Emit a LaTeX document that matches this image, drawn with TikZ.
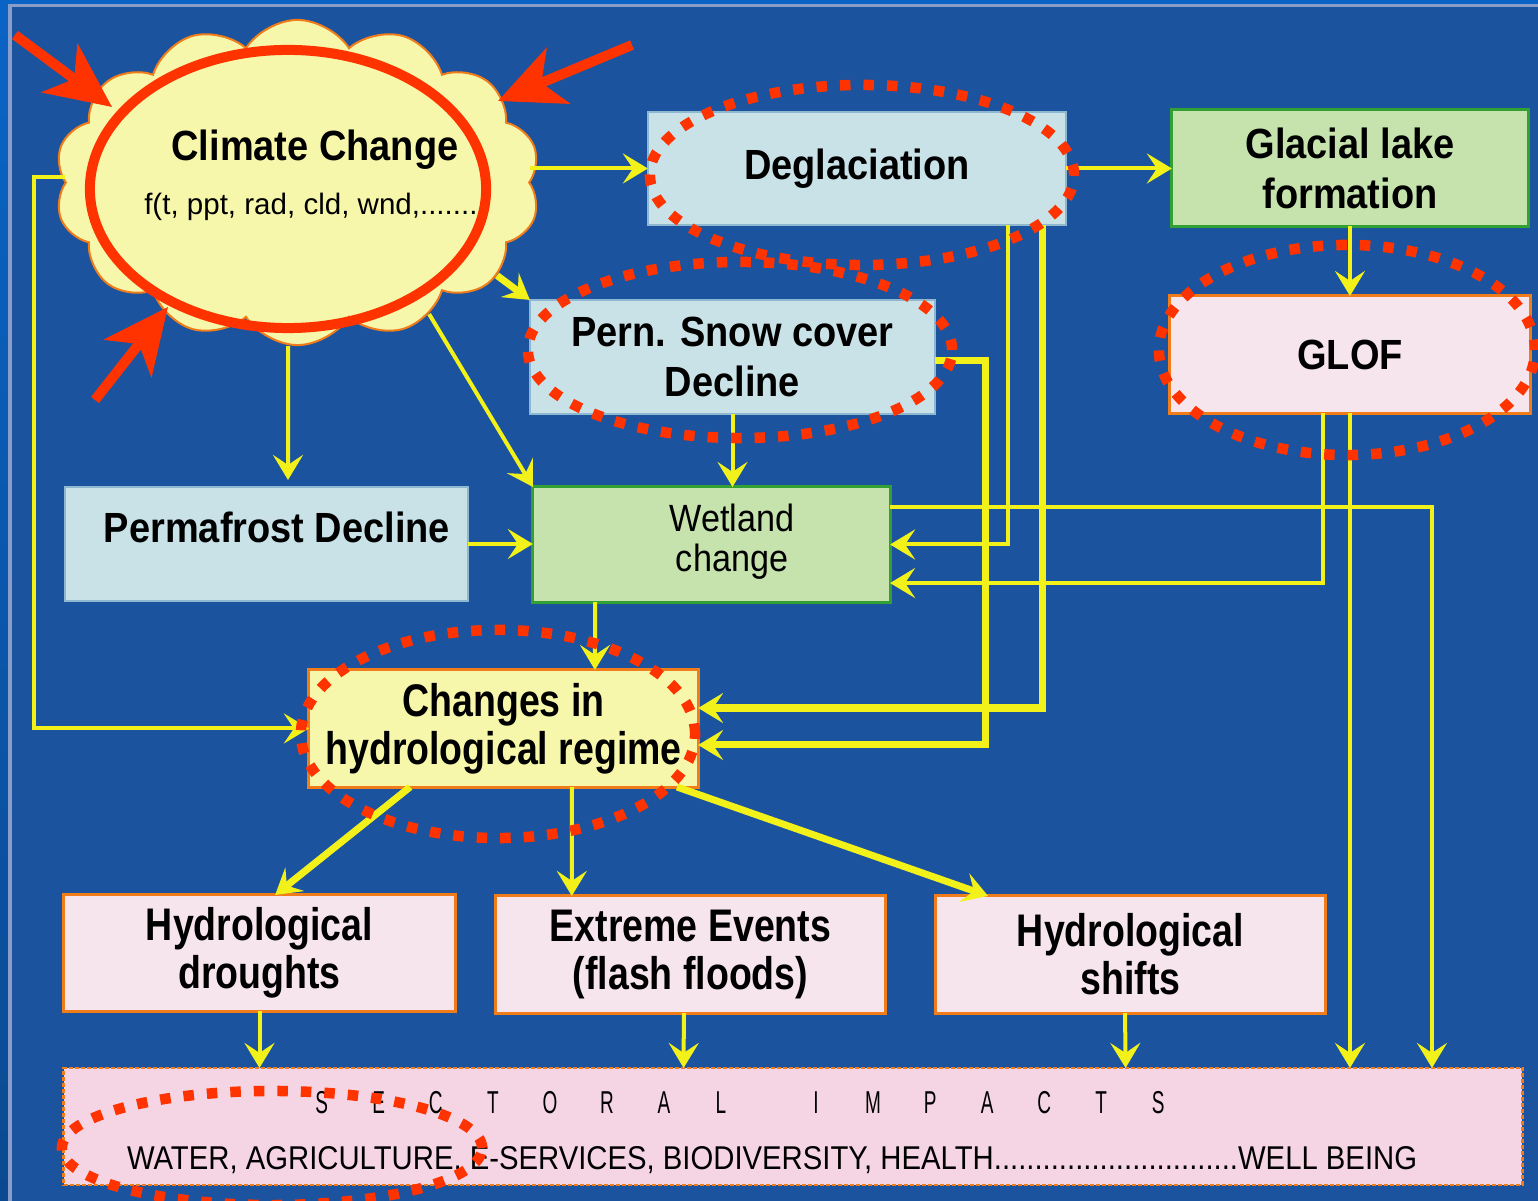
\documentclass[tikz,border=0pt]{standalone}
\usepackage{graphicx}
\usepackage{fontspec}
\setmainfont{Liberation Sans}
\newfontfamily\fA[FakeStretch=0.9]{Liberation Sans}
\newfontfamily\fB[FakeStretch=0.82]{Liberation Sans}
\newfontfamily\fD[FakeStretch=0.6]{Liberation Sans}
\usetikzlibrary{shapes.symbols,arrows.meta,calc}
\definecolor{outerblue}{HTML}{0A64C6}
\definecolor{outerdark}{HTML}{0B4A92}
\definecolor{bgblue}{HTML}{1B539F}
\definecolor{panelline}{HTML}{8A9CC8}
\definecolor{ylw}{HTML}{F2F21A}
\definecolor{redc}{HTML}{FF3300}
\definecolor{lblue}{HTML}{C8E2E7}
\definecolor{lblueb}{HTML}{8EB8D0}
\definecolor{lgreen}{HTML}{C6E3AD}
\definecolor{dgreen}{HTML}{33A033}
\definecolor{lpink}{HTML}{F6E5EC}
\definecolor{spink}{HTML}{F5D5E4}
\definecolor{orng}{HTML}{F07D1A}
\definecolor{lyel}{HTML}{F7F7AB}
\newcommand\mytop{\fA\bfseries\fontsize{12}{14.2}\selectfont}
\newcommand\mybot{\fB\bfseries\fontsize{13}{13.7}\selectfont}
\newcommand\mywet{\fA\fontsize{10.8}{11.4}\selectfont}
\newcommand\mysub{\fontsize{8.4}{10}\selectfont}
\newcommand\mysec{\fD\fontsize{9}{10}\selectfont}
\newcommand\myl[1]{\makebox[0.57cm][c]{#1}}
\tikzset{
  box/.style={rectangle, inner sep=0pt, outer sep=0pt, align=center, text=black},
  bluebox/.style={box, fill=lblue, draw=lblueb, line width=0.015cm},
  greenbox/.style={box, fill=lgreen, draw=dgreen, line width=0.03cm},
  pinkbox/.style={box, fill=lpink, draw=orng, line width=0.03cm},
  yelbox/.style={box, fill=lyel, draw=orng, line width=0.03cm},
  sectbox/.style={box, fill=spink, draw=orng, line width=0.025cm, dash pattern=on 0.04cm off 0.02cm},
  txt/.style={inner sep=0pt, outer sep=0pt, align=center, text=black},
  arr/.style={draw=ylw, line width=0.04cm, -{Stealth[length=0.25cm,width=0.3cm,inset=0.1cm]}},
  thickarr/.style={arr, line width=0.07cm},
  reddots/.style={draw=redc, line width=0.105cm, dash pattern=on 0.105cm off 0.13cm},
  redarrow/.style={draw=redc, line width=0.1cm, -{Stealth[length=0.65cm,width=0.6cm,inset=0.18cm]}},
}
\begin{document}
\begin{tikzpicture}[x=0.01cm,y=-0.01cm]
\useasboundingbox (0,0) rectangle (1538,1201);
\shade[top color=outerblue, bottom color=outerdark] (0,0) rectangle (1538,1201);
\fill[bgblue] (10,6) rectangle (1538,1201);
\draw[panelline, line width=0.03cm] (10,1201) -- (10,6) -- (1538,6);

% cloud
\node[cloud, cloud puffs=14, cloud puff arc=115, aspect=1.5, minimum width=4.85cm, minimum height=3.25cm,
      fill=lyel, draw=orng, line width=0.02cm, inner sep=0pt] (cloud) at (297.5,182.5) {};
\node[txt, font=\mytop] (cctitle) at (315,150) {Climate Change};
\node[txt, font=\mysub] (ccsub) at (315,207) {f(t, ppt, rad, cld, wnd,........};

% boxes
\node[bluebox, font=\mytop, minimum width=4.18cm, minimum height=1.13cm] (degl) at (857,168.5) {Deglaciation};
\node[greenbox, font=\mytop, minimum width=3.56cm, minimum height=1.16cm] (glac) at (1350,168) {Glacial lake\\formation};
\node[pinkbox, font=\mytop, minimum width=3.6cm, minimum height=1.17cm] (glof) at (1350,354.5) {GLOF};
\node[bluebox, font=\mytop, minimum width=4.05cm, minimum height=1.14cm] (snow) at (732.5,357) {Pern. Snow cover\\Decline};
\node[bluebox, minimum width=4.03cm, minimum height=1.14cm] (perma) at (266.5,544) {};
\node[txt, font=\mytop] (permatext) at (277,527) {Permafrost Decline};
\node[greenbox, minimum width=3.57cm, minimum height=1.15cm] (wet) at (711.5,544.5) {};
\node[txt, font=\mywet] (wettext) at (732,542) {Wetland\\change};
\node[yelbox, font=\mybot, minimum width=3.89cm, minimum height=1.17cm] (chg) at (503.5,728.5) {Changes in\\hydrological regime};
\node[pinkbox, font=\mybot, minimum width=3.91cm, minimum height=1.16cm] (drought) at (259.5,953) {Hydrological\\droughts};
\node[pinkbox, font=\mybot, minimum width=3.89cm, minimum height=1.17cm] (extreme) at (690.5,954.5) {Extreme Events\\(flash floods)};
\node[pinkbox, font=\mybot, minimum width=3.89cm, minimum height=1.17cm] (shifts) at (1130.5,954.5) {Hydrological\\shifts};
\node[sectbox, minimum width=14.58cm, minimum height=1.17cm] (sect) at (793,1126.5) {};
\node[txt, font=\mysec] (secttitle) at (740,1103) {\myl{S}\myl{E}\myl{C}\myl{T}\myl{O}\myl{R}\myl{A}\myl{L}\hspace{0.38cm}\myl{I}\myl{M}\myl{P}\myl{A}\myl{C}\myl{T}\myl{S}};
\node[txt] (sectline) at (772,1160) {\resizebox{12.89cm}{0.23cm}{\fD WATER, AGRICULTURE, E-SERVICES, BIODIVERSITY, HEALTH..............................WELL BEING}};

% connectors
\draw[arr] (cloud.east |- degl.west) -- (degl.west);
\draw[arr] (degl.east) -- (glac.west |- degl.east);
\draw[arr] (glac.south) -- (glof.north);
\draw[thickarr] (cloud.-25) -- (snow.north west);
\draw[arr] (cloud.-45) -- (wet.north west);
\draw[arr] ($(cloud.south)+(-9.5,0)$) -- ($(perma.north)+(21.5,-7)$);
\draw[arr] ($(cloud.west)+(0,-5)$) -- ++(-31,0) |- (chg.west);
\draw[arr] (perma.east) -- (wet.west |- perma.east);
\draw[arr] (snow.south) -- (wet.north -| snow.south);
\draw[arr] ($(wet.south west)!0.174!(wet.south east)$) -- ($(chg.north west)!0.735!(chg.north east)$);
\draw[thickarr] ($(degl.south west)!0.943!(degl.south east)$) |- ($(chg.north east)!0.325!(chg.south east)$);
\draw[thickarr] ($(snow.north east)!0.535!(snow.south east)$) -- ++(50,0) |- ($(chg.north east)!0.641!(chg.south east)$);
\draw[arr] ($(degl.south west)!0.861!(degl.south east)$) |- (wet.east);
\draw[arr] ($(glof.south west)!0.425!(glof.south east)$) |- ($(wet.north east)!0.835!(wet.south east)$);
\draw[arr] (glof.south) -- (glof.south |- sect.north);
\draw[arr] ($(wet.north east)!0.174!(wet.south east)$) -| ($(sect.north west)!0.938!(sect.north east)$);
\draw[thickarr] ($(chg.south west)!0.26!(chg.south east)$) -- ($(drought.north west)!0.54!(drought.north east)$);
\draw[arr] ($(chg.south west)!0.676!(chg.south east)$) -- ($(extreme.north west)!0.195!(extreme.north east)$);
\draw[thickarr] ($(chg.south west)!0.946!(chg.south east)$) -- ($(shifts.north west)!0.134!(shifts.north east)$);
\draw[arr] (drought.south) -- (drought.south |- sect.north);
\draw[arr] ($(extreme.south west)!0.483!(extreme.south east)$) -- ($(sect.north west)!0.425!(sect.north east)$);
\draw[arr] ($(shifts.south west)!0.486!(shifts.south east)$) -- ($(sect.north west)!0.728!(sect.north east)$);

% dotted highlight ellipses
\draw[reddots] (862,175) ellipse [x radius=2.12cm, y radius=0.9cm];
\draw[reddots] (740,350) ellipse [x radius=2.12cm, y radius=0.88cm];
\draw[reddots] (1347,350) ellipse [x radius=1.88cm, y radius=1.05cm];
\draw[reddots] (498,734) ellipse [x radius=1.97cm, y radius=1.04cm];
\draw[reddots] (272,1148) ellipse [x radius=2.1cm, y radius=0.57cm];

% red ellipse and arrows
\draw[redc, line width=0.1cm] (288,189) ellipse [x radius=1.98cm, y radius=1.39cm];
\coordinate (ra1s) at (15,35);  \coordinate (ra1e) at (112,107);
\coordinate (ra2s) at (632,45); \coordinate (ra2e) at (498,101);
\coordinate (ra3s) at (95,400); \coordinate (ra3e) at (168,307);
\draw[redarrow] (ra1s) -- (ra1e);
\draw[redarrow] (ra2s) -- (ra2e);
\draw[redarrow] (ra3s) -- (ra3e);
\end{tikzpicture}
\end{document}
